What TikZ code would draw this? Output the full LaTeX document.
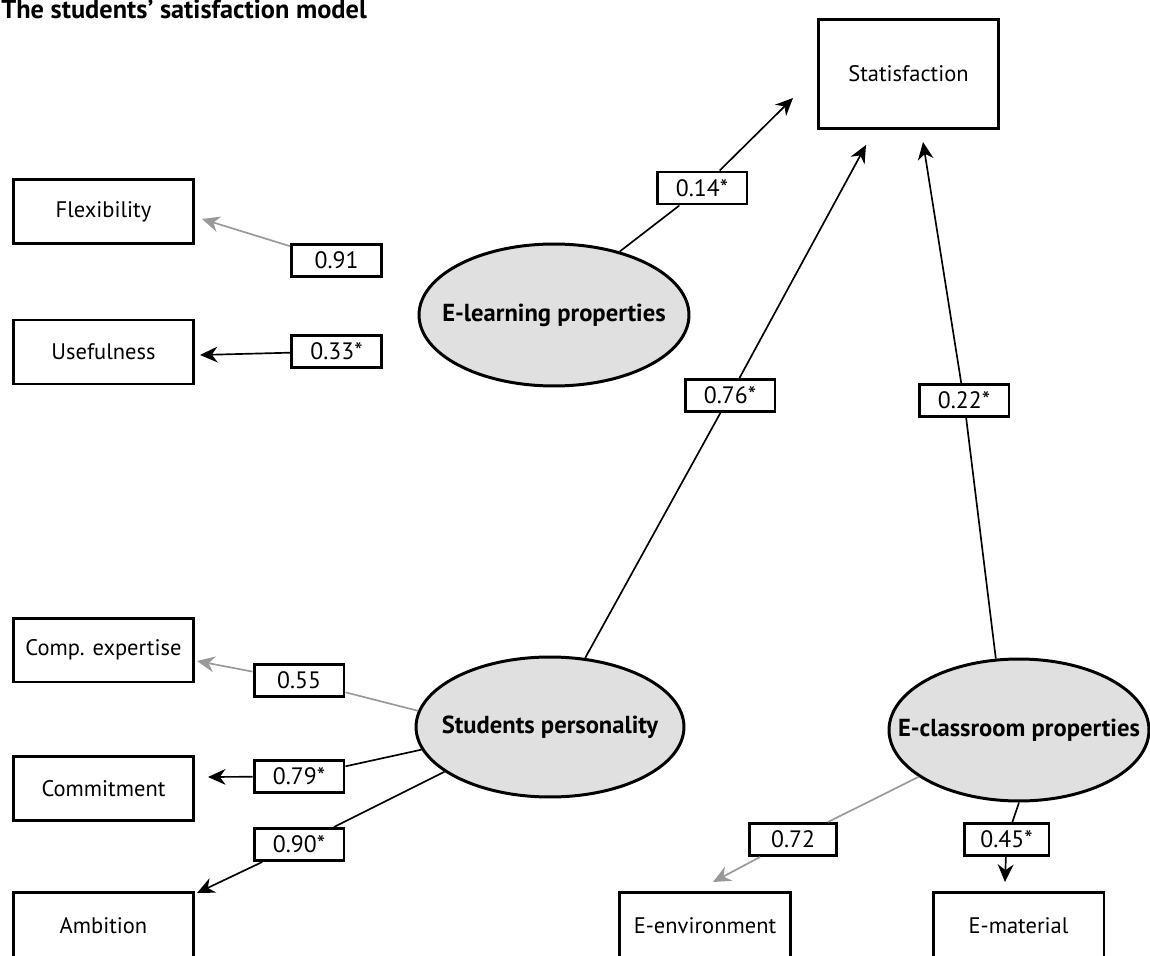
\documentclass[tikz,border=0pt]{standalone}
\usepackage{fontspec}
\setmainfont{PT Sans}
\usetikzlibrary{arrows.meta, shapes}

\begin{document}
\begin{tikzpicture}[x=0.02cm, y=-0.02cm,
	box/.style={draw, line width=1.7pt, minimum width=3.6cm, minimum height=1.28cm, inner sep=0pt, font=\fontsize{12.8}{14}\selectfont},
	lbl/.style={draw, fill=white, line width=1.7pt, minimum width=1.8cm, minimum height=0.64cm, inner sep=0pt, font=\fontsize{13.5}{15}\selectfont},
	latent/.style={draw, ellipse, fill=black!12, line width=1.7pt, minimum width=5.4cm, minimum height=2.84cm, inner sep=0pt, font=\bfseries\fontsize{14}{16}\selectfont},
	path/.style={line width=0.95pt},
	weak/.style={line width=0.95pt, black!40},
	tip/.style={-{Stealth[length=10pt, width=9pt]}}]
	\useasboundingbox (0,0) rectangle (1150,956);
	
	%Titulo
	\node[anchor=base west, inner sep=0pt, font=\bfseries\fontsize{15}{17}\selectfont] (title) at (1,19) {The students' satisfaction model};
	
	%Variables observadas
	\node[box, minimum height=2.2cm] (satis) at (908.5,74) {Statisfaction};
	\node[box] (flex) at (103.5,211.5) {Flexibility};
	\node[box] (useful) at (103.5,352) {Usefulness};
	\node[box] (comp) at (103.5,650) {Comp. expertise};
	\node[box] (commit) at (103.5,788.5) {Commitment};
	\node[box, minimum height=1.34cm] (ambit) at (103.5,926) {Ambition};
	\node[box, minimum width=3.44cm, minimum height=1.34cm] (envir) at (705,926) {E-environment};
	\node[box, minimum width=3.42cm, minimum height=1.34cm] (mater) at (1018.5,926) {E-material};
	
	%Variables latentes
	\node[latent] (elearn) at (554,315) {\makebox[0pt]{E-learning properties}};
	\node[latent, minimum width=5.36cm, minimum height=2.8cm] (person) at (550,727) {\makebox[0pt]{Students personality}};
	\node[latent, minimum width=5.2cm] (eclass) at (1019,730) {\makebox[0pt]{E-classroom properties}};
	
	%Pesos
	\node[lbl] (w91) at (336.5,260.5) {0.91};
	\node[lbl] (w33) at (336.5,351.5) {0.33*};
	\node[lbl] (w14) at (702,188) {0.14*};
	\node[lbl] (w76) at (730,395.5) {0.76*};
	\node[lbl] (w22) at (964,400.5) {0.22*};
	\node[lbl] (w55) at (299,680.5) {0.55};
	\node[lbl] (w79) at (299,776.5) {0.79*};
	\node[lbl] (w90) at (299,844.5) {0.90*};
	\node[lbl, minimum width=1.74cm] (w72) at (793,839.5) {0.72};
	\node[lbl, minimum width=1.7cm] (w45) at (1006.5,839.5) {0.45*};
	
	%Puntas de flecha
	\coordinate (t91) at (202,219);
	\coordinate (t33) at (200,355);
	\coordinate (t14) at (793,98);
	\coordinate (t76) at (866,145);
	\coordinate (t22) at (923,142);
	\coordinate (t55) at (197,661);
	\coordinate (t79) at (208,777);
	\coordinate (t90) at (197,893);
	\coordinate (t72) at (713,882);
	\coordinate (t45) at (1005,882);
	
	%Flechas
	\draw[weak, tip] (w91) -- (t91);
	\draw[path, tip] (w33) -- (t33);
	\draw[path] (elearn.44) -- (w14);
	\draw[path, tip] (w14) -- (t14);
	\draw[path] (person.63) -- (w76);
	\draw[path, tip] (w76) -- (t76);
	\draw[path] (eclass.108) -- (w22);
	\draw[path, tip] (w22) -- (t22);
	\draw[weak] (person.173) -- (w55);
	\draw[weak, tip] (w55) -- (t55);
	\draw[path] (person.190) -- (w79);
	\draw[path, tip] (w79) -- (t79);
	\draw[path] (person.203) -- (w90);
	\draw[path, tip] (w90) -- (t90);
	\draw[weak] (eclass.205) -- (w72);
	\draw[weak, tip] (w72) -- (t72);
	\draw[path] (eclass.south) -- (w45);
	\draw[path, tip] (w45) -- (t45);
\end{tikzpicture}
\end{document}
